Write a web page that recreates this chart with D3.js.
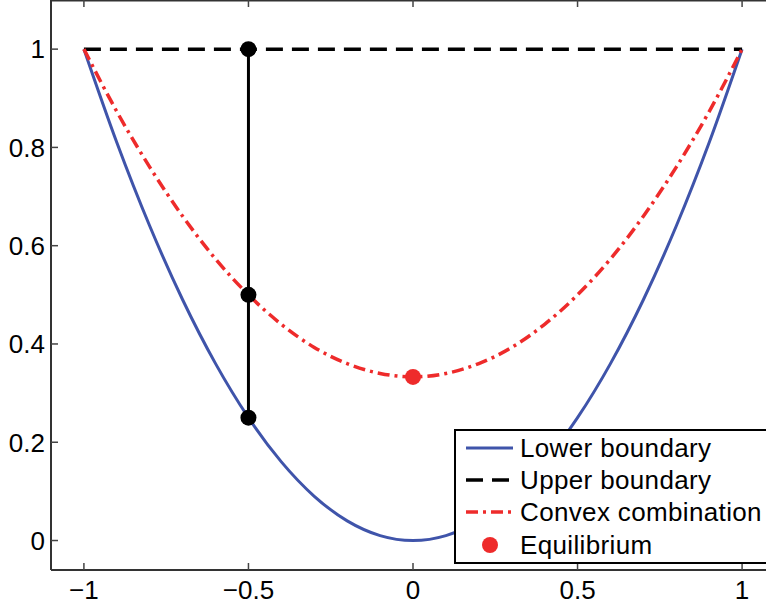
<!DOCTYPE html>
<html>
<head>
<meta charset="utf-8">
<script src="https://cdn.jsdelivr.net/npm/d3@7"></script>
<style>
  body { margin: 0; background: #fff; }
  svg { display: block; font-family: "Liberation Sans", Arial, sans-serif; }
</style>
</head>
<body>
<svg width="766" height="610"></svg>
<script>
// values
var xValues = [-1, -0.9, -0.8, -0.7, -0.6, -0.5, -0.4, -0.3, -0.2, -0.1, 0,
               0.1, 0.2, 0.3, 0.4, 0.5, 0.6, 0.7, 0.8, 0.9, 1];
var lowerValues = [1, 0.81, 0.64, 0.49, 0.36, 0.25, 0.16, 0.09, 0.04, 0.01, 0,
                   0.01, 0.04, 0.09, 0.16, 0.25, 0.36, 0.49, 0.64, 0.81, 1];
var upperValues = [1, 1, 1, 1, 1, 1, 1, 1, 1, 1, 1,
                   1, 1, 1, 1, 1, 1, 1, 1, 1, 1];
var convexValues = [1, 0.873, 0.76, 0.66, 0.573, 0.5, 0.44, 0.393, 0.36, 0.34, 0.333,
                    0.34, 0.36, 0.393, 0.44, 0.5, 0.573, 0.66, 0.76, 0.873, 1];
var segmentX = -0.5;
var segmentPoints = [1, 0.5, 0.25];
var equilibrium = [0, 0.333];
var xTicks = [-1, -0.5, 0, 0.5, 1];
var yTicks = [0, 0.2, 0.4, 0.6, 0.8, 1];
var legendLabels = ["Lower boundary", "Upper boundary", "Convex combination", "Equilibrium"];

var blue = "#3f54aa", red = "#ee2b2b";

var svg = d3.select("svg"),
  mLeft = 51, mTop = 0, mRight = 766 + 9, mBottom = 570;

var x = d3.scaleLinear().domain([-1.1, 1.1]).range([mLeft, mRight]),
  y = d3.scaleLinear().domain([-0.06, 1.1]).range([mBottom, mTop]);

function fmt(d) { return d < 0 ? "\u2212" + Math.abs(d) : "" + d; }

// box
var axisCol = "#333";
svg.append("line").attr("x1", mLeft).attr("x2", mLeft).attr("y1", mTop).attr("y2", mBottom)
  .attr("stroke", axisCol).attr("stroke-width", 2);
svg.append("line").attr("x1", mLeft).attr("x2", mRight).attr("y1", mBottom).attr("y2", mBottom)
  .attr("stroke", axisCol).attr("stroke-width", 2);
svg.append("line").attr("x1", mLeft).attr("x2", mRight).attr("y1", mTop + 0.5).attr("y2", mTop + 0.5)
  .attr("stroke", axisCol).attr("stroke-width", 2);

// ticks (inward, matlab style)
var ticks = svg.append("g").attr("stroke", "#444").attr("stroke-width", 1.5);
xTicks.forEach(function(t) {
  ticks.append("line").attr("x1", x(t)).attr("x2", x(t)).attr("y1", mBottom).attr("y2", mBottom - 7);
  ticks.append("line").attr("x1", x(t)).attr("x2", x(t)).attr("y1", mTop).attr("y2", mTop + 7);
});
yTicks.forEach(function(t) {
  ticks.append("line").attr("x1", mLeft).attr("x2", mLeft + 7).attr("y1", y(t)).attr("y2", y(t));
});

svg.append("g").selectAll("text").data(xTicks).join("text")
  .attr("x", function(d) { return x(d); })
  .attr("y", 599)
  .attr("text-anchor", "middle")
  .attr("font-size", 26)
  .text(fmt);

svg.append("g").selectAll("text").data(yTicks).join("text")
  .attr("x", mLeft - 6)
  .attr("y", function(d) { return y(d); })
  .attr("dy", "0.36em")
  .attr("text-anchor", "end")
  .attr("font-size", 26)
  .text(fmt);

// curves
var line = d3.line()
  .x(function(d, i) { return x(xValues[i]); })
  .y(function(d) { return y(d); })
  .curve(d3.curveMonotoneX);

svg.append("path").attr("d", line(lowerValues))
  .attr("fill", "none").attr("stroke", blue).attr("stroke-width", 3);
svg.append("path").attr("d", line(upperValues))
  .attr("fill", "none").attr("stroke", "#000").attr("stroke-width", 3.5)
  .attr("stroke-dasharray", "17,9");
svg.append("path").attr("d", line(convexValues))
  .attr("fill", "none").attr("stroke", red).attr("stroke-width", 3.5)
  .attr("stroke-dasharray", "12,5,3,5");

// vertical segment
svg.append("line")
  .attr("x1", x(segmentX)).attr("x2", x(segmentX))
  .attr("y1", y(d3.max(segmentPoints))).attr("y2", y(d3.min(segmentPoints)))
  .attr("stroke", "#000").attr("stroke-width", 3);
svg.append("g").selectAll("circle").data(segmentPoints).join("circle")
  .attr("cx", x(segmentX))
  .attr("cy", function(d) { return y(d); })
  .attr("r", 8)
  .attr("fill", "#000");

svg.append("circle")
  .attr("cx", x(equilibrium[0])).attr("cy", y(equilibrium[1]))
  .attr("r", 8).attr("fill", red);

// legend
var lg = svg.append("g").attr("transform", "translate(455,430)");
lg.append("rect").attr("x", 0).attr("y", 0).attr("width", 330).attr("height", 133)
  .attr("fill", "#fff").attr("stroke", "#000").attr("stroke-width", 2);
var rowY = [18, 50, 82, 115];
var styles = [
  { stroke: blue, dash: null, w: 3 },
  { stroke: "#000", dash: "17,9", w: 3.5 },
  { stroke: red, dash: "12,5,3,5", w: 3.5 }
];
styles.forEach(function(s, i) {
  lg.append("line").attr("x1", 11).attr("x2", 58).attr("y1", rowY[i]).attr("y2", rowY[i])
    .attr("stroke", s.stroke).attr("stroke-width", s.w)
    .attr("stroke-dasharray", s.dash);
});
lg.append("circle").attr("cx", 35).attr("cy", rowY[3]).attr("r", 8).attr("fill", red);
lg.selectAll("text.lab").data(legendLabels).join("text")
  .attr("class", "lab")
  .attr("x", 65)
  .attr("y", function(d, i) { return rowY[i]; })
  .attr("dy", "0.36em")
  .attr("font-size", 26)
  .attr("letter-spacing", 0.35)
  .text(function(d) { return d; });
</script>
</body>
</html>
